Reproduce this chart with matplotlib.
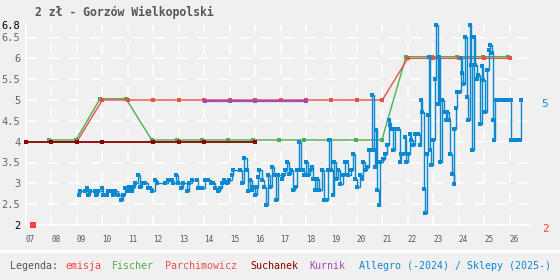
import matplotlib
matplotlib.use("Agg")
import matplotlib.pyplot as plt

# ---------------- data ----------------
emisja_x = [2007.29]
emisja_y = [2.0]

fischer_x = [2007.92, 2008.96, 2009.91, 2010.93, 2011.94, 2012.93, 2013.93, 2014.95,
             2015.92, 2016.94, 2017.92, 2018.94, 2019.95, 2020.98, 2021.93, 2022.96,
             2023.95, 2024.97, 2025.95]
fischer_y = [4.04, 4.04, 5.03, 5.03, 4.04, 4.04, 4.04, 4.04, 4.04, 4.04, 4.04, 4.04,
             4.04, 4.04, 6.04, 6.04, 6.04, 6.04, 6.04]

parch_x = [2008, 2009, 2010, 2011, 2012, 2013, 2014, 2015, 2016, 2017, 2018, 2019,
           2020, 2021, 2022, 2023, 2024, 2025, 2026]
parch_y = [4.0, 4.0, 5.0, 5.0, 5.0, 5.0, 5.0, 5.0, 5.0, 5.0, 5.0, 5.0, 5.0, 5.0,
           6.0, 6.0, 6.0, 6.0, 6.0]

such_x = [2007, 2008, 2009, 2010, 2012, 2013, 2014, 2016]
such_y = [3.99, 3.99, 3.99, 3.99, 3.99, 3.99, 3.99, 3.99]

kurnik_x = [2014.02, 2015.03, 2016.0, 2018.0]
kurnik_y = [4.97, 4.97, 4.97, 4.97]

allegro_x = [
    2009.08, 2009.12, 2009.32, 2009.38, 2009.45, 2009.51, 2009.71, 2009.74, 2009.84, 2009.97,
    2010.04, 2010.17, 2010.23, 2010.37, 2010.43, 2010.50, 2010.63, 2010.73, 2010.82, 2010.89,
    2010.99, 2011.05, 2011.15, 2011.22, 2011.28, 2011.39, 2011.48, 2011.54, 2011.68, 2011.78,
    2011.87, 2011.96, 2012.07, 2012.13, 2012.46, 2012.59, 2012.72, 2012.79, 2012.89, 2012.99,
    2013.09, 2013.18, 2013.33, 2013.40, 2013.51, 2013.71, 2013.77, 2013.90, 2014.03, 2014.16,
    2014.27, 2014.36, 2014.43, 2014.53, 2014.62, 2014.69, 2014.79, 2014.88, 2014.98, 2015.08,
    2015.15, 2015.41, 2015.47, 2015.58, 2015.67, 2015.74,
    2015.80, 2015.87, 2015.93, 2016.00, 2016.06, 2016.13, 2016.17, 2016.26, 2016.35, 2016.43,
    2016.52, 2016.59, 2016.65, 2016.74, 2016.82, 2016.91, 2017.04, 2017.11, 2017.18, 2017.27,
    2017.35, 2017.42, 2017.50, 2017.57, 2017.66, 2017.74, 2017.80, 2017.87, 2017.93, 2018.00,
    2018.09, 2018.16, 2018.22, 2018.29, 2018.35, 2018.45, 2018.52, 2018.62, 2018.71, 2018.79,
    2018.88, 2018.92, 2018.98, 2019.05, 2019.10, 2019.18, 2019.27, 2019.34, 2019.44, 2019.53,
    2019.60, 2019.66, 2019.76, 2019.86, 2019.93, 2020.02, 2020.12, 2020.19, 2020.25, 2020.32,
    2020.38, 2020.48, 2020.54, 2020.59, 2020.67, 2020.71, 2020.75, 2020.80, 2020.86, 2020.91,
    2021.03, 2021.09, 2021.20, 2021.25, 2021.29, 2021.35, 2021.42, 2021.48, 2021.62, 2021.68,
    2021.75, 2021.81, 2021.88, 2021.94, 2022.01, 2022.07, 2022.14, 2022.21, 2022.27, 2022.40,
    2022.47, 2022.53, 2022.57, 2022.62, 2022.69, 2022.76, 2022.79, 2022.83, 2022.89, 2022.93,
    2022.99, 2023.06, 2023.12, 2023.19, 2023.23, 2023.28, 2023.36, 2023.42, 2023.49, 2023.55,
    2023.61, 2023.67, 2023.74, 2023.80, 2023.82, 2023.88, 2023.95, 2024.03, 2024.08, 2024.14,
    2024.18, 2024.25, 2024.31, 2024.38, 2024.45, 2024.49, 2024.54, 2024.60, 2024.64, 2024.71,
    2024.77, 2024.84, 2024.93, 2024.97, 2025.05, 2025.13, 2025.18, 2025.23, 2025.30, 2025.34,
    2025.38, 2025.43, 2025.50, 2025.57, 2025.64, 2025.71, 2025.78, 2025.85, 2025.92, 2025.99,
    2026.04, 2026.07, 2026.15, 2026.23, 2026.31, 2026.41, 2026.46]
allegro_y = [
    2.71, 2.82, 2.82, 2.90, 2.71, 2.82, 2.82, 2.71, 2.82, 2.90,
    2.71, 2.71, 2.82, 2.82, 2.71, 2.82, 2.71, 2.59, 2.71, 2.90,
    2.82, 2.91, 2.82, 2.91, 3.00, 3.20, 2.91, 3.00, 3.00, 2.90,
    2.90, 2.82, 3.09, 3.00, 3.00, 3.09, 3.09, 3.00, 3.20, 3.00,
    2.90, 3.00, 2.82, 3.00, 3.09, 3.09, 2.90, 2.90, 3.09, 3.09,
    3.00, 3.00, 2.90, 2.82, 2.90, 3.00, 3.09, 3.00, 3.09, 3.20,
    3.31, 3.31, 3.00, 3.60, 3.31, 2.82,
    3.07, 2.83, 2.91, 2.71, 2.91, 3.15, 3.31, 3.07, 2.91, 2.47,
    3.19, 2.91, 3.39, 3.19, 2.59, 3.19, 3.11, 3.19, 3.31, 3.51,
    3.23, 3.31, 2.83, 2.91, 3.31, 3.99, 3.31, 3.31, 3.19, 3.51,
    3.19, 3.31, 3.39, 3.11, 2.83, 3.11, 2.83, 3.31, 2.59, 2.59,
    3.31, 4.04, 3.31, 2.71, 3.51, 3.11, 3.31, 2.99, 3.19, 3.51,
    3.51, 3.19, 3.31, 3.71, 3.11, 2.91, 3.19, 3.11, 3.51, 3.31,
    3.39, 3.79, 3.79, 5.12, 3.79, 3.39, 4.29, 2.83, 2.47, 3.51,
    3.59, 3.71, 3.91, 4.51, 4.39, 4.31, 3.79, 4.31, 4.31, 3.51,
    3.71, 3.71, 4.11, 3.51, 3.71, 4.19, 4.03, 3.91, 4.19, 4.19,
    3.91, 5.00, 4.71, 2.86, 2.30, 3.71, 4.63, 6.04, 3.79, 3.43,
    4.03, 5.51, 6.80, 4.91, 6.04, 3.51, 5.00, 4.71, 4.51, 4.71,
    4.51, 3.71, 3.23, 2.98, 4.31, 4.81, 5.19, 5.19, 6.00, 5.64,
    5.39, 6.52, 5.07, 4.51, 6.80, 5.84, 3.79, 6.52, 5.84, 5.51,
    5.59, 4.43, 5.82, 5.47, 4.71, 5.72, 6.20, 6.32, 6.12, 4.51,
    4.03, 5.00, 5.00, 5.00, 5.00, 5.00, 5.00, 5.00, 5.00, 5.00,
    5.00, 4.03, 4.03, 4.03, 4.03, 4.03, 5.00]

x_tick_years = list(range(2007, 2027))
x_tick_labels = ["%02d" % (y % 100) for y in x_tick_years]
y_ticks = [2, 2.5, 3, 3.5, 4, 4.5, 5, 5.5, 6, 6.5, 6.8]
y_tick_labels = ["2", "2.5", "3", "3.5", "4", "4.5", "5", "5.5", "6", "6.5", "6.8"]

title = "2 zł - Gorzów Wielkopolski"
legend_items = [("Legenda:", "#555555"), ("emisja", "#ff4040"), ("Fischer", "#4caf50"),
                ("Parchimowicz", "#e8504a"), ("Suchanek", "#8b0000"), ("Kurnik", "#a24ab0"),
                ("Allegro (-2024) / Sklepy (2025-)", "#0a88d0")]
legend_px = [10, 65, 112, 165, 250, 309, 359]

# ---------------- style ----------------
BG = "#f0f0f0"
C_EMI = "#ff4040"
C_FIS = "#4caf50"
C_PAR = "#e8504a"
C_SUC = "#8b0000"
C_KUR = "#a24ab0"
C_ALL = "#0a88d0"
MONO = "DejaVu Sans Mono"

W, H = 560, 280
fig = plt.figure(figsize=(W / 100, H / 100), dpi=100, facecolor=BG)
left, right, top, bottom = 26, 530, 25, 225
ax = fig.add_axes([left / W, (H - bottom) / H, (right - left) / W, (bottom - top) / H])
ax.set_facecolor(BG)
ax.set_xlim(2007, 2026.8)
ax.set_ylim(2, 6.8)

for s in ["top", "right"]:
    ax.spines[s].set_visible(False)
for s in ["left", "bottom"]:
    ax.spines[s].set_color("white")
    ax.spines[s].set_linewidth(1.2)

ax.set_xticks(x_tick_years)
ax.set_xticklabels(x_tick_labels, fontsize=5.5, family=MONO, color="#555555", ha="left")
ax.set_yticks(y_ticks)
ax.set_yticklabels(y_tick_labels, fontsize=7.5, family=MONO, color="#666666")
for lab in ax.get_yticklabels():
    if lab.get_text() in ("2", "6.8"):
        lab.set_color("black")
ax.tick_params(axis="both", length=0)
ax.tick_params(axis="x", pad=7)
ax.tick_params(axis="y", pad=4)
ax.grid(True, color="white", linewidth=1.1, linestyle=(0, (7, 7)))
ax.get_ygridlines()[-1].set_visible(False)
ax.get_xgridlines()[0].set_visible(False)
ax.set_axisbelow(True)

# ---------------- series ----------------
ax.plot(emisja_x, emisja_y, "s", color=C_EMI, ms=4, mew=0, clip_on=False, zorder=5)
ax.plot(fischer_x, fischer_y, "-s", color=C_FIS, lw=1.0, ms=2.6, mew=0, zorder=3, clip_on=False)
ax.plot(parch_x, parch_y, "-s", color=C_PAR, lw=1.0, ms=2.8, mew=0, zorder=4, clip_on=False)
ax.plot(such_x, such_y, "-s", color=C_SUC, lw=1.3, ms=2.6, mew=0, zorder=4, clip_on=False)
ax.plot(kurnik_x, kurnik_y, "-s", color=C_KUR, lw=1.6, ms=2.8, mew=0, zorder=4, clip_on=False)
ax.plot(allegro_x, allegro_y, "-s", color=C_ALL, lw=1.0, ms=2.6, mew=0,
        drawstyle="steps-post", zorder=6, clip_on=False)

# last-value labels on the right
trans = ax.get_yaxis_transform()
ax.text(1.03, allegro_y[-1] - 0.1, "%g" % allegro_y[-1], transform=trans, color=C_ALL,
        fontsize=8, family=MONO, ha="center", va="center")
ax.text(1.03, emisja_y[-1] - 0.1, "%g" % emisja_y[-1], transform=trans, color=C_EMI,
        fontsize=8, family=MONO, ha="center", va="center")

# title
fig.text(35 / W, 1 - 12 / H, title, fontsize=8.3, family=MONO, fontweight="bold",
         color="#555555", ha="left", va="center")

# separator and legend
fig.add_artist(plt.Line2D([0, 1], [1 - 251 / H, 1 - 251 / H], color="white", lw=2.5,
                          transform=fig.transFigure))
for (txt, col), px in zip(legend_items, legend_px):
    fig.text(px / W, 1 - 266 / H, txt, fontsize=7.2, family=MONO, color=col,
             ha="left", va="center")

fig.savefig("out.png", dpi=100, facecolor=BG)
